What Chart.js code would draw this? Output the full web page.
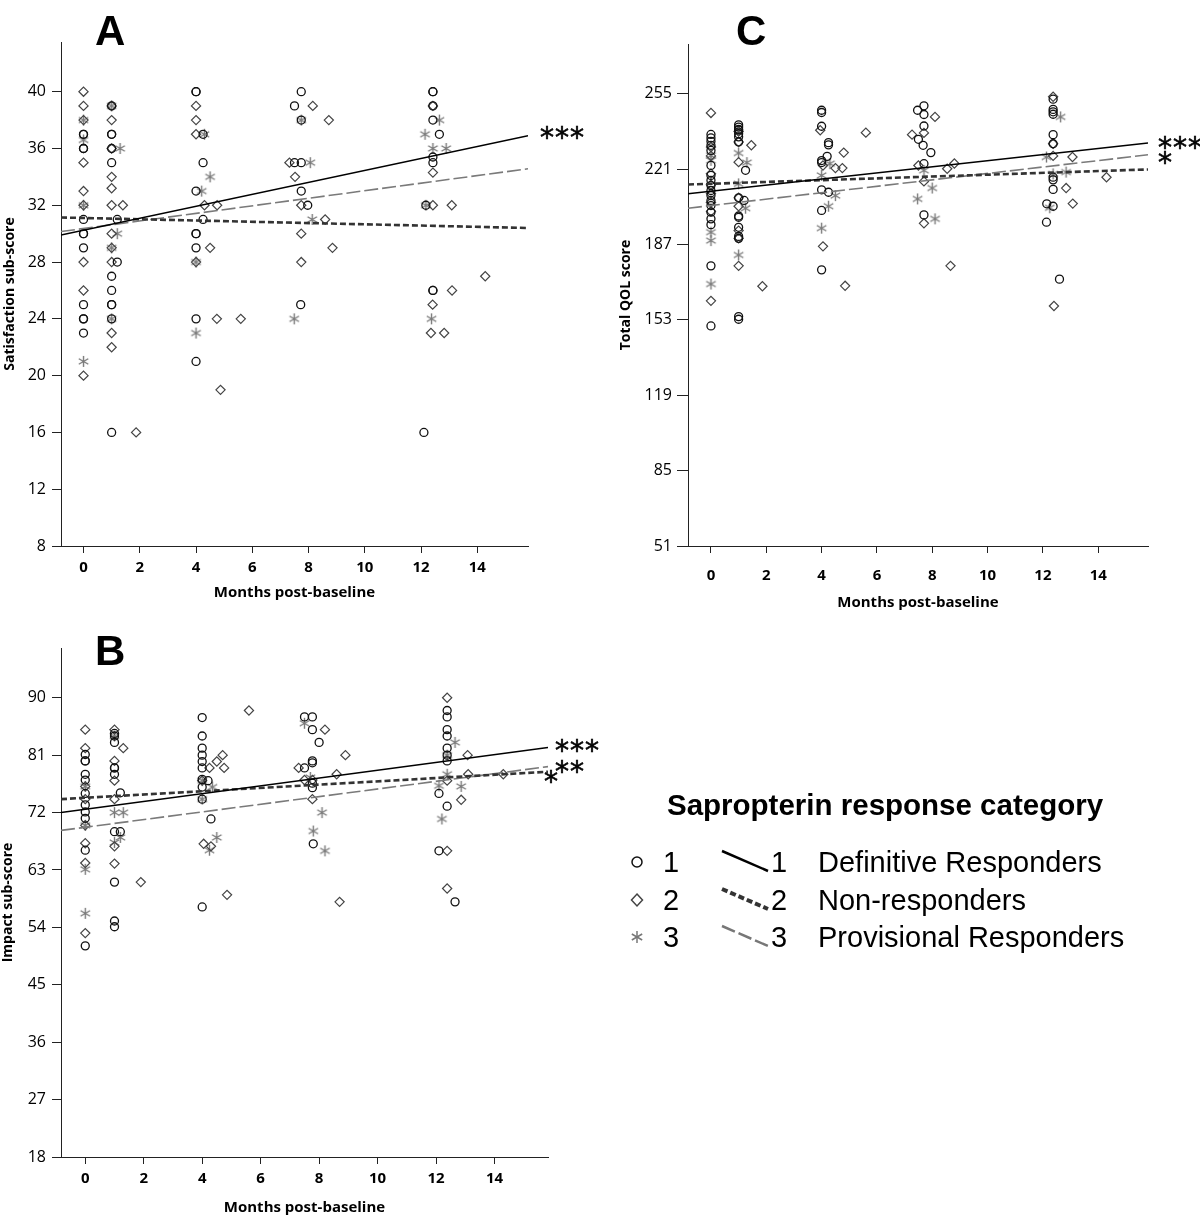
<!DOCTYPE html>
<html>
<head>
<meta charset="utf-8">
<script src="https://cdn.jsdelivr.net/npm/chart.js@4.4.1/dist/chart.umd.min.js"></script>
<style>
  body { margin: 0; background: #fff; width: 1200px; height: 1218px; position: relative; overflow: hidden; }
  canvas { position: absolute; }
  .letter { position: absolute; font: bold 42px "Liberation Sans", Arial, sans-serif; line-height: 42px; color: #000; }
  .sig { position: absolute; font: 28px "DejaVu Sans", sans-serif; line-height: 28px; color: #000; letter-spacing: 1px; white-space: nowrap; -webkit-text-stroke: 0.6px #000; }
  .lg { position: absolute; font: 29px "Liberation Sans", Arial, sans-serif; line-height: 29px; color: #000; white-space: nowrap; }
  .lgt { position: absolute; font: bold 29.5px "Liberation Sans", Arial, sans-serif; line-height: 30px; color: #000; white-space: nowrap; }
  svg { position: absolute; left: 0; top: 0; }
</style>
</head>
<body>
<canvas id="chartA"></canvas>
<canvas id="chartC"></canvas>
<canvas id="chartB"></canvas>

<div class="letter" style="left:95px; top:10px;">A</div>
<div class="letter" style="left:736px; top:10px;">C</div>
<div class="letter" style="left:95px; top:630px;">B</div>

<div class="sig" style="left:540px; top:124px;">***</div>
<div class="sig" style="left:1158px; top:134px;">***</div>
<div class="sig" style="left:1158px; top:149px;">*</div>
<div class="sig" style="left:555px; top:737px;">***</div>
<div class="sig" style="left:555px; top:758px;">**</div>
<div class="sig" style="left:544px; top:768px;">*</div>

<svg width="1200" height="1218">
  <circle cx="637" cy="862" r="5" fill="none" stroke="#111" stroke-width="1.5"/>
  <polygon points="637,894 642.5,900 637,906 631.5,900" fill="none" stroke="#444" stroke-width="1.5"/>
  <g stroke="#777" stroke-width="1.5">
    <line x1="637" y1="931" x2="637" y2="943"/>
    <line x1="631.8" y1="934" x2="642.2" y2="940"/>
    <line x1="631.8" y1="940" x2="642.2" y2="934"/>
  </g>
  <line x1="722" y1="851" x2="768" y2="871" stroke="#000" stroke-width="2.5"/>
  <line x1="722" y1="889" x2="768" y2="909" stroke="#333" stroke-width="4" stroke-dasharray="6 3"/>
  <line x1="722" y1="926" x2="768" y2="946" stroke="#777" stroke-width="2.5" stroke-dasharray="14 4"/>
</svg>
<div class="lgt" style="left:667px; top:790px;">Sapropterin response category</div>
<div class="lg" style="left:663px; top:848px;">1</div>
<div class="lg" style="left:663px; top:886px;">2</div>
<div class="lg" style="left:663px; top:923px;">3</div>
<div class="lg" style="left:771px; top:848px;">1</div>
<div class="lg" style="left:771px; top:886px;">2</div>
<div class="lg" style="left:771px; top:923px;">3</div>
<div class="lg" style="left:818px; top:848px;">Definitive Responders</div>
<div class="lg" style="left:818px; top:886px;">Non-responders</div>
<div class="lg" style="left:818px; top:923px;">Provisional Responders</div>

<script>
// A - satisfaction sub-score, [month, score]
const satDefinitive = [[0,37],[0,37],[0,36],[0,36],[0,31],[0,30],[0,30],[0,29],[0,25],[0,24],[0,24],[0,23],
  [1,39],[1,37],[1,37],[1,36],[1,35],[1.2,31],[1.2,28],[1,27],[1,26],[1,25],[1,25],[1,24],[1,16],
  [4,40],[4,40],[4.25,37],[4.25,35],[4,33],[4.25,31],[4,30],[4,30],[4,29],[4,24],[4,21],
  [7.5,39],[7.74,40],[7.74,38],[7.5,35],[7.74,35],[7.74,33],[7.97,32],[7.72,25],
  [12.42,40],[12.42,40],[12.42,39],[12.42,38],[12.65,37],[12.42,35.4],[12.42,35],[12.17,32],[12.42,26],[12.42,26],[12.1,16]];
const satNon = [[0,40],[0,39],[0,38],[0,35],[0,33],[0,32],[0,28],[0,26],[0,20],
  [1,39],[1,38],[1,36],[1,34],[1,33.2],[1,32],[1.4,32],[1,30],[1,29],[1,28],[1,23],[1,22],[1.87,16],
  [4,39],[4,38],[4,37],[4.3,32],[4.75,32],[4.5,29],[4,28],[4.74,24],[5.59,24],[4.87,19],
  [8.15,39],[8.72,38],[7.32,35],[7.52,34],[7.74,32],[8.59,31],[7.74,30],[8.85,29],[7.74,28],
  [12.42,39],[12.42,34.3],[12.42,32],[13.09,32],[14.28,27],[13.1,26],[12.41,25],[12.35,23],[12.82,23]];
const satProv = [[0,38],[0,36.6],[0,32],[0,21],
  [1,39],[1.3,36],[1.2,30],[1,29],[1,24],
  [4.3,37],[4.5,34],[4.2,33],[4,28],[4,23],
  [7.74,38],[8.06,35],[8.13,31],[7.49,24],
  [12.65,38],[12.14,37],[12.42,36],[12.89,36],[12.17,32],[12.37,24]];
const satFitMonths = [-0.8, 15.8];
const satFitStart = [29.9, 31.14, 30.15];   // definitive, non, provisional
const satFitEnd = [36.9, 30.4, 34.57];
const satTicks = [8, 12, 16, 20, 24, 28, 32, 36, 40];

// C - total QOL score
const qolDefinitive = [
  [0,236.7],[0,235.1],[0,233.6],[0,231.8],[0,229.5],[0,222.7],[0,218.2],[0,216],[0,213.6],[0,211.4],[0,209.1],[0,206.9],[0,204.6],[0,201.6],[0,198.6],[0,196],[0,177.4],[0,150.3],
  [1,241],[1,240],[1,239],[1,238.6],[1,237],[1,235.6],[1,233.3],[1.25,220.5],[1,208.1],[1.2,206.9],[1,199.9],[1,199.3],[1,194.8],[1,190.7],[1,189.8],[1,154.5],[1,153.3],
  [4,247.6],[4,246.6],[4,240.4],[4.25,233],[4.25,232],[4.2,226.8],[4,224.9],[4,224],[4,211.7],[4.25,210.6],[4,202.4],[4,175.6],
  [7.7,249.6],[7.47,247.6],[7.7,245.7],[7.7,240.5],[7.5,234.5],[7.67,231.8],[7.95,228.5],[7.7,223.5],[7.7,200.4],
  [12.37,252.6],[12.37,248],[12.37,246.9],[12.37,245.8],[12.37,236.6],[12.37,232.5],[12.37,217.4],[12.37,216.2],[12.37,211.9],[12.14,205.4],[12.37,204.3],[12.13,197.1],[12.6,171.4]];
const qolNon = [
  [0,246.4],[0,231],[0,227],[0,219],[0,214],[0,210],[0,206],[0,202],[0,161.6],
  [1,238],[1,233.3],[1.46,231.8],[1,224.2],[1,208.1],[1,204.3],[1,193.3],[1,189.8],[1,177.4],[1.86,168.2],
  [3.95,238.6],[4.8,228.5],[4.05,222.7],[4.5,221.5],[4.75,221.5],[4.05,186.2],[4.85,168.4],[5.6,237.5],
  [8.1,244.6],[7.27,236.6],[7.7,237.4],[7.5,222.7],[8.8,223.6],[8.54,221.2],[7.7,215.5],[7.7,196.6],[8.66,177.4],
  [12.37,253.7],[12.37,232.5],[12.37,227],[13.07,226.5],[14.3,217.4],[12.84,212.5],[13.08,205.5],[12.4,159.3]];
const qolProv = [
  [0,227.2],[0,225],[0,192.6],[0,188.8],[0,169.2],
  [1,228.3],[1.3,224],[1,214.4],[1.25,203.4],[1,182.3],
  [4.3,223.5],[4,218.2],[4.5,209.1],[4.25,204.3],[4,194.4],
  [7.7,220.5],[8,212.5],[7.47,207.6],[8.1,198.6],
  [12.64,244.6],[12.13,226.5],[12.84,219.7],[12.37,218.9],[12.25,203.6]];
const qolFitMonths = [-0.83, 15.8];
const qolFitStart = [209.9, 214.1, 203.4];
const qolFitEnd = [232.8, 220.9, 227.5];
const qolTicks = [51, 85, 119, 153, 187, 221, 255];

// B - impact sub-score
const impDefinitive = [
  [0,81.1],[0,80.1],[0,80.1],[0,78],[0,77.1],[0,75],[0,73.2],[0,72.1],[0,71.1],[0,66.1],[0,51.1],
  [1,84.4],[1,84],[1,83],[1,79],[1,79],[1,78],[1.2,75.1],[1,69],[1.2,69],[1,61.1],[1,55],[1,54.1],
  [4,86.9],[4,84],[4,82.1],[4,81],[4,80],[4,79],[4,77.2],[4.2,77],[4,76],[4,74.1],[4.3,71],[4,57.2],
  [7.5,87],[7.77,87],[7.77,85],[8,83],[7.77,80.1],[7.77,79.8],[7.5,79],[7.77,76.6],[7.77,75.9],[7.8,67.1],
  [12.38,88],[12.38,87],[12.38,85],[12.38,84],[12.38,82.1],[12.38,81],[12.38,80.1],[12.1,75],[12.38,73],[12.1,66],[12.65,58]];
const impNon = [
  [0,85],[0,82.1],[0,76.1],[0,74.1],[0,70],[0,67.2],[0,64.1],[0,53.1],
  [1,85],[1.3,82.1],[1,80.1],[1,77],[1,74.1],[1,66.7],[1,64],[1.9,61.1],
  [5.6,88],[4.7,81],[4.5,80],[4.25,79],[4.75,79],[4,77],[4.05,67.1],[4.3,66.7],[4.85,59.1],
  [8.2,85],[8.9,81],[7.3,79],[8.6,78],[7.5,77.1],[7.77,77.1],[7.77,74.1],[8.7,58],
  [12.38,90],[13.08,81],[13.1,78],[14.3,78],[12.38,77],[12.86,74],[12.38,66],[12.38,60.1]];
const impProv = [
  [0,76.1],[0,70],[0,63.1],[0,56.2],
  [1,84],[1,72],[1.3,72],[1.2,68.1],[1,67.3],
  [4,77],[4.35,76],[4,74.1],[4.5,68.1],[4.25,66.1],
  [7.5,86],[7.7,77.5],[8.1,72],[7.8,69.1],[8.2,66],
  [12.65,83],[12.38,81],[12.38,78],[12.1,76.2],[12.86,76.1],[12.2,71]];
const impFitMonths = [-0.83, 15.83];
const impFitStart = [72.0, 74.1, 69.2];
const impFitEnd = [82.2, 78.4, 79.2];
const impTicks = [18, 27, 36, 45, 54, 63, 72, 81, 90];

const monthTicks = [0, 2, 4, 6, 8, 10, 12, 14];

// 6-armed asterisk marker like the SPSS one
let starMarker = document.createElement('canvas');
starMarker.width = 13;
starMarker.height = 13;
let sctx = starMarker.getContext('2d');
sctx.strokeStyle = '#7a7a7a';
sctx.lineWidth = 1.4;
sctx.beginPath();
for (let k = 0; k < 3; k++) {
  let a = Math.PI / 2 + k * Math.PI / 3;
  sctx.moveTo(6.5 + 5.5 * Math.cos(a), 6.5 + 5.5 * Math.sin(a));
  sctx.lineTo(6.5 - 5.5 * Math.cos(a), 6.5 - 5.5 * Math.sin(a));
}
sctx.stroke();

let toXY = (pairs) => pairs.map(p => ({ x: p[0], y: p[1] }));

let fitStyles = [
  { borderColor: '#000', borderWidth: 1.5, borderDash: [] },
  { borderColor: '#333', borderWidth: 2.6, borderDash: [6, 3] },
  { borderColor: '#7a7a7a', borderWidth: 1.6, borderDash: [14, 4] }
];

let makePanel = (p) => {
  let cv = document.getElementById(p.id);
  cv.style.left = p.left + 'px';
  cv.style.top = p.top + 'px';
  cv.width = p.w;
  cv.height = p.h;
  cv.style.width = p.w + 'px';
  cv.style.height = p.h + 'px';

  let datasets = [];
  for (let i = 0; i < 3; i++) {
    datasets.push(Object.assign({
      data: [{ x: p.fitMonths[0], y: p.fitStart[i] }, { x: p.fitMonths[1], y: p.fitEnd[i] }],
      showLine: true,
      pointRadius: 0,
      fill: false
    }, fitStyles[i]));
  }
  datasets.push({ data: toXY(p.def), pointStyle: 'circle', pointRadius: 4, borderColor: '#111', borderWidth: 1.3, backgroundColor: 'rgba(0,0,0,0)' });
  datasets.push({ data: toXY(p.non), pointStyle: 'rectRot', pointRadius: 4.6, borderColor: '#444', borderWidth: 1.2, backgroundColor: 'rgba(0,0,0,0)' });
  datasets.push({ data: toXY(p.prov), pointStyle: starMarker, pointRadius: 6, borderColor: '#777', backgroundColor: '#777' });

  new Chart(cv, {
    type: 'scatter',
    data: { datasets: datasets },
    options: {
      responsive: false,
      animation: false,
      events: [],
      layout: { padding: { left: 0, top: p.area.t, right: p.w - p.area.r, bottom: 0 } },
      plugins: { legend: { display: false }, tooltip: { enabled: false } },
      scales: {
        x: {
          type: 'linear',
          min: p.xMin,
          max: p.xMax,
          afterFit: (s) => { s.height = p.h - p.area.b; },
          afterBuildTicks: (s) => { s.ticks = monthTicks.map(v => ({ value: v })); },
          border: { color: '#222', width: 1 },
          grid: { drawOnChartArea: false, drawTicks: true, tickLength: 7, color: '#222' },
          ticks: { color: '#000', padding: p.xTickPad, maxRotation: 0, font: { family: 'Open Sans', size: 15, weight: 'bold' } },
          title: { display: true, text: 'Months post-baseline', color: '#000', padding: { top: 0, bottom: p.xTitlePad }, font: { family: 'Open Sans', size: 15, weight: 'bold' } }
        },
        y: {
          type: 'linear',
          min: p.yMin,
          max: p.yMax,
          afterFit: (s) => { s.width = p.area.l; },
          afterBuildTicks: (s) => { s.ticks = p.yTicks.map(v => ({ value: v })); },
          border: { color: '#222', width: 1 },
          grid: { drawOnChartArea: false, drawTicks: true, tickLength: p.yTickLen, color: '#222' },
          ticks: { color: '#000', padding: p.yTickPad, font: { family: 'Open Sans', size: 16 } },
          title: { display: true, text: p.yTitle, color: '#000', padding: { top: p.yTitlePad, bottom: 0 }, font: { family: 'Open Sans', size: 14, weight: 'bold' } }
        }
      }
    }
  });
};

makePanel({
  id: 'chartA', left: 0, top: 0, w: 600, h: 615,
  area: { l: 61, t: 42, r: 528, b: 546 },
  xMin: -0.8, xMax: 15.8, yMin: 8, yMax: 43.5, yTicks: satTicks,
  yTitle: 'Satisfaction sub-score', yTickLen: 9, yTickPad: 6, yTitlePad: 2, xTitlePad: 13, xTickPad: 6,
  def: satDefinitive, non: satNon, prov: satProv,
  fitMonths: satFitMonths, fitStart: satFitStart, fitEnd: satFitEnd
});

makePanel({
  id: 'chartC', left: 600, top: 0, w: 600, h: 620,
  area: { l: 88, t: 44, r: 548, b: 546 },
  xMin: -0.83, xMax: 15.8, yMin: 51, yMax: 277.5, yTicks: qolTicks,
  yTitle: 'Total QOL score', yTickLen: 11, yTickPad: 5, yTitlePad: 18, xTitlePad: 8, xTickPad: 14,
  def: qolDefinitive, non: qolNon, prov: qolProv,
  fitMonths: qolFitMonths, fitStart: qolFitStart, fitEnd: qolFitEnd
});

makePanel({
  id: 'chartB', left: 0, top: 620, w: 600, h: 598,
  area: { l: 61, t: 28, r: 548, b: 537 },
  xMin: -0.83, xMax: 15.83, yMin: 18, yMax: 97.8, yTicks: impTicks,
  yTitle: 'Impact sub-score', yTickLen: 9, yTickPad: 6, yTitlePad: 0, xTitlePad: 1, xTickPad: 6,
  def: impDefinitive, non: impNon, prov: impProv,
  fitMonths: impFitMonths, fitStart: impFitStart, fitEnd: impFitEnd
});
</script>
</body>
</html>
